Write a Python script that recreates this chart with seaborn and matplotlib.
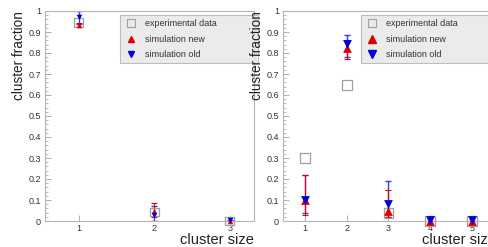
import numpy as np
import pandas as pd
import seaborn as sns
import matplotlib.pyplot as plt
from matplotlib.lines import Line2D
from matplotlib.ticker import MultipleLocator, FuncFormatter

# data, left panel
sizes_l = [1, 2, 3]
exp_l = [0.945, 0.043, 0.0]
new_l = [0.935, 0.05, 0.0]
new_l_lo = [0.925, 0.02, 0.0]
new_l_hi = [0.945, 0.085, 0.0]
old_l = [0.97, 0.03, 0.003]
old_l_lo = [0.94, 0.0, 0.0]
old_l_hi = [1.0, 0.07, 0.006]

# data, right panel
sizes_r = [1, 2, 3, 4, 5]
exp_r = [0.30, 0.648, 0.038, 0.0, 0.0]
new_r = [0.10, 0.824, 0.05, 0.0, 0.0]
new_r_lo = [0.03, 0.77, 0.02, 0.0, 0.0]
new_r_hi = [0.22, 0.86, 0.15, 0.0, 0.0]
old_r = [0.10, 0.845, 0.08, 0.006, 0.006]
old_r_lo = [0.04, 0.78, 0.02, 0.0, 0.0]
old_r_hi = [0.22, 0.885, 0.19, 0.012, 0.012]

labels = ["experimental data", "simulation new", "simulation old"]
RED = "#e00000"
BLUE = "#0000dd"
GRAY = "#a0a0a0"

sns.set_style("white")
plt.rcParams["font.family"] = ["Liberation Sans", "DejaVu Sans"]

fig = plt.figure(figsize=(4.88, 2.47), dpi=100)
W, H = 488, 247
ax1 = fig.add_axes([45 / W, (H - 221) / H, (254 - 45) / W, 210 / H])
ax2 = fig.add_axes([283 / W, (H - 221) / H, (496 - 283) / W, 210 / H])


def fmt(v, pos):
    if abs(v) < 1e-9:
        return "0"
    if abs(v - 1) < 1e-9:
        return "1"
    return "%.1f" % v


def draw(ax, x, exp, new, nlo, nhi, old, olo, ohi, ms, sq, xlim, leg_x, ylab_x):
    df = pd.DataFrame({
        "size": list(x) * 3,
        "fraction": list(exp) + list(new) + list(old),
        "set": [labels[0]] * len(x) + [labels[1]] * len(x) + [labels[2]] * len(x),
    })
    new = np.array(new); old = np.array(old)
    ax.errorbar(x, old, yerr=[old - np.array(olo), np.array(ohi) - old], fmt="none",
                ecolor="#3a3aee", elinewidth=1.0, capsize=2, capthick=1.0, zorder=2)
    ax.errorbar(x, new, yerr=[new - np.array(nlo), np.array(nhi) - new], fmt="none",
                ecolor=RED, elinewidth=0.8, capsize=2, capthick=0.8, zorder=2)
    sns.scatterplot(data=df[df["set"] == labels[0]], x="size", y="fraction", ax=ax,
                    marker="s", s=sq, facecolor="none", edgecolor=GRAY,
                    linewidth=0.9, legend=False, zorder=3)
    sns.scatterplot(data=df[df["set"] == labels[1]], x="size", y="fraction", ax=ax,
                    marker="^", s=ms, color=RED, linewidth=0, legend=False, zorder=4)
    sns.scatterplot(data=df[df["set"] == labels[2]], x="size", y="fraction", ax=ax,
                    marker="v", s=ms, color=BLUE, linewidth=0, legend=False, zorder=5)

    ax.set_xlim(*xlim)
    ax.set_ylim(0, 1)
    ax.set_xticks(x)
    ax.yaxis.set_major_locator(MultipleLocator(0.1))
    ax.yaxis.set_minor_locator(MultipleLocator(0.02))
    ax.yaxis.set_major_formatter(FuncFormatter(fmt))
    ax.tick_params(axis="y", which="major", direction="in", length=4, width=0.6,
                   color=GRAY, labelsize=6.5, labelcolor="#333333", pad=3, left=True)
    ax.tick_params(axis="y", which="minor", direction="in", length=2, width=0.5,
                   color=GRAY, left=True)
    ax.tick_params(axis="x", direction="in", length=4, width=0.6, color=GRAY,
                   labelsize=6.5, labelcolor="#333333", pad=2, bottom=True)
    for sp in ax.spines.values():
        sp.set_color("#b5b5b5")
        sp.set_linewidth(0.8)
    ax.set_xlabel("cluster size", fontsize=10.5, ha="right", x=1.0, labelpad=0, color="#222222")
    ax.set_ylabel("cluster fraction", fontsize=9.8, ha="right", y=1.0, labelpad=1, color="#222222")
    ax.yaxis.set_label_coords(ylab_x, 1.0)

    handles = [
        Line2D([], [], marker="s", ls="none", mfc="none", mec=GRAY, ms=5.5, mew=0.8),
        Line2D([], [], marker="^", ls="none", color=RED, ms=4 if ms < 30 else 6),
        Line2D([], [], marker="v", ls="none", color=BLUE, ms=4 if ms < 30 else 6),
    ]
    leg = ax.legend(handles, labels, loc="lower left", mode="expand",
                    bbox_to_anchor=(leg_x, 0.75, 1.02 - leg_x, 0.255), fontsize=6.5,
                    frameon=True, fancybox=False, borderaxespad=0, handlelength=1.5,
                    handletextpad=0.8, labelspacing=0.75, borderpad=0.45)
    leg.get_frame().set_facecolor("#e6e6e6")
    leg.get_frame().set_edgecolor("#b0b0b0")
    leg.get_frame().set_linewidth(0.8)
    for t in leg.get_texts():
        t.set_color("#333333")


draw(ax1, sizes_l, exp_l, new_l, new_l_lo, new_l_hi, old_l, old_l_lo, old_l_hi,
     16, 40, (0.553, 3.32), 0.36, -0.09)
draw(ax2, sizes_r, exp_r, new_r, new_r_lo, new_r_hi, old_r, old_r_lo, old_r_hi,
     40, 50, (0.473, 5.575), 0.366, -0.09)

for ax in (ax1, ax2):
    for c in ax.collections:
        c.set_clip_on(False)

fig.savefig("out.png", dpi=100)
